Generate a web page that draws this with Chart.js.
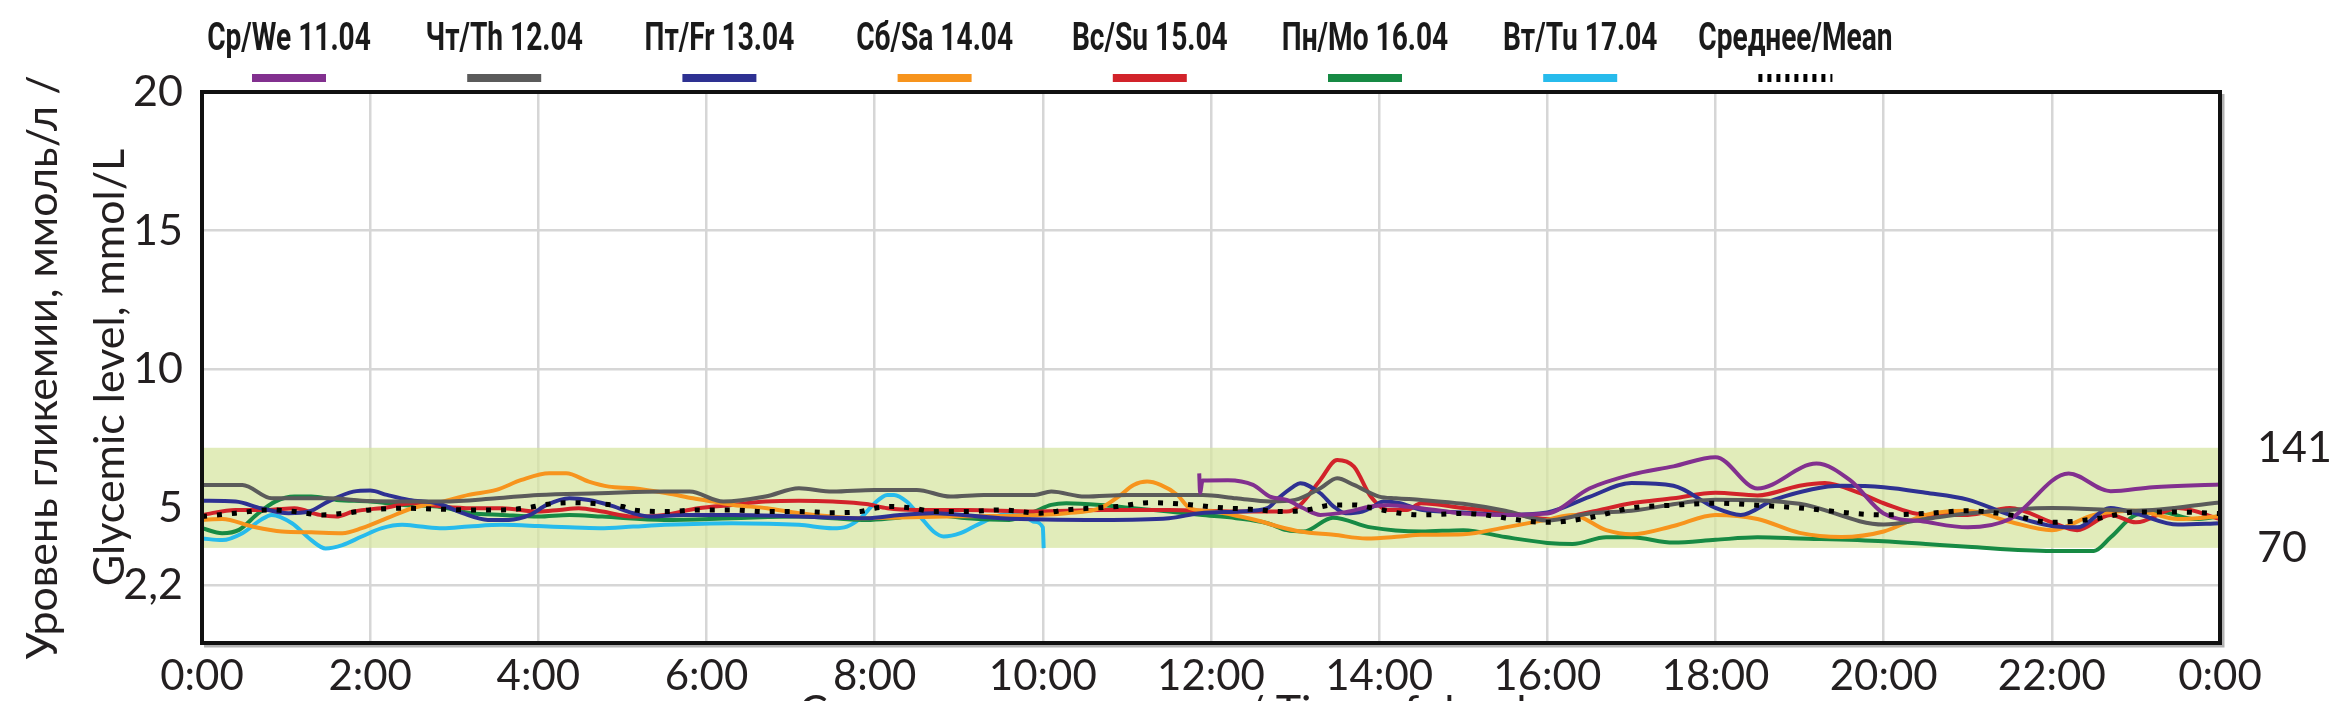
<!DOCTYPE html>
<html>
<head>
<meta charset="utf-8">
<script src="https://cdn.jsdelivr.net/npm/chart.js@4.4.0/dist/chart.umd.min.js"></script>
<style>
  html, body { margin: 0; padding: 0; background: #fff; }
  #wrap { width: 2340px; height: 701px; }
</style>
</head>
<body>
<div id="wrap"><canvas id="glucose-chart" width="2340" height="701"></canvas></div>
<script>
// Series labels (legend order)
const dayLabels = ['Ср/We 11.04', 'Чт/Th 12.04', 'Пт/Fr 13.04', 'Сб/Sa 14.04',
                   'Вс/Su 15.04', 'Пн/Мо 16.04', 'Вт/Tu 17.04', 'Среднее/Mean'];
const dayColors = ['#82308f', '#5b5b5b', '#2e3192', '#f7941d',
                   '#d2232a', '#178a44', '#27bbec', '#000000'];

// Axis ticks
const timeLabels = ['0:00', '2:00', '4:00', '6:00', '8:00', '10:00', '12:00',
                    '14:00', '16:00', '18:00', '20:00', '22:00', '0:00'];
const yTicks = [2.2, 5, 10, 15, 20];
const yTickLabels = ['2,2', '5', '10', '15', '20'];

// Target range, mmol/L (labelled in mg/dL on the right)
const targetRange = [3.56, 7.17];
const targetLabels = ['70', '141'];

// [hour, mmol/L]
const wed = [[11.86, 6.25], [11.87, 5.55], [11.9, 5.99], [12.2, 6.0], [12.5, 5.83], [12.7, 5.41],
  [12.9, 5.29], [13.1, 4.99], [13.3, 4.75], [13.6, 4.85], [13.9, 5.05], [14.1, 5.1], [14.5, 4.99],
  [15, 4.8], [15.5, 4.75], [16, 4.8], [16.5, 5.7], [17, 6.2], [17.5, 6.5], [18, 6.83], [18.5, 5.7],
  [19.2, 6.6], [19.6, 6.0], [20, 4.8], [20.5, 4.5], [21, 4.3], [21.5, 4.6], [22.2, 6.24], [22.7, 5.6],
  [23.2, 5.75], [24, 5.85]];
const thu = [[0, 5.83], [0.48, 5.83], [0.83, 5.35], [1.5, 5.35], [2.0, 5.25], [2.86, 5.23], [3.5, 5.35],
  [4.0, 5.47], [4.73, 5.53], [5.5, 5.59], [5.8, 5.59], [6.2, 5.23], [6.7, 5.41], [7.1, 5.71], [7.5, 5.59],
  [8.0, 5.65], [8.5, 5.65], [8.9, 5.41], [9.3, 5.47], [9.9, 5.47], [10.1, 5.59], [10.5, 5.41], [11.0, 5.47],
  [11.9, 5.47], [12.3, 5.35], [12.7, 5.23], [13.0, 5.29], [13.3, 5.71], [13.5, 6.07], [13.7, 5.83],
  [14.0, 5.41], [14.2, 5.35], [14.5, 5.29], [15, 5.15], [15.5, 4.9], [16, 4.55], [16.5, 4.8], [17, 4.9],
  [18, 5.3], [19, 5.15], [20, 4.4], [20.5, 4.6], [21, 4.8], [22, 5.0], [23, 4.9], [24, 5.2]];
const fri = [[0, 5.26], [0.4, 5.23], [0.7, 4.99], [1.03, 4.81], [1.27, 4.87], [1.5, 5.23], [1.8, 5.59],
  [2.0, 5.63], [2.2, 5.47], [2.46, 5.29], [2.8, 5.17], [3.1, 4.81], [3.4, 4.57], [3.65, 4.57], [3.9, 4.75],
  [4.1, 5.11], [4.37, 5.35], [4.6, 5.29], [4.84, 5.11], [5.13, 4.81], [5.33, 4.69], [5.73, 4.75],
  [6.32, 4.75], [7.1, 4.69], [7.9, 4.63], [8.3, 4.75], [8.7, 4.81], [9.5, 4.63], [10.7, 4.57], [11.5, 4.63],
  [11.87, 4.81], [12.35, 4.87], [12.67, 4.99], [12.8, 5.35], [12.98, 5.77], [13.06, 5.89], [13.3, 5.53],
  [13.46, 5.05], [13.6, 4.81], [13.8, 4.87], [13.93, 5.05], [14.05, 5.23], [14.25, 5.17], [14.5, 4.93],
  [15, 4.84], [15.5, 4.75], [16, 4.84], [16.5, 5.4], [17, 5.9], [17.5, 5.8], [18, 5.0], [18.3, 4.75],
  [18.7, 5.3], [19.5, 5.8], [20, 5.75], [20.5, 5.55], [21, 5.3], [21.5, 4.75], [22, 4.35], [22.3, 4.3],
  [22.7, 5.0], [23, 4.8], [23.5, 4.4], [24, 4.45]];
const sat = [[0, 4.57], [0.24, 4.6], [0.6, 4.33], [0.95, 4.15], [1.3, 4.12], [1.67, 4.09], [1.9, 4.27],
  [2.2, 4.63], [2.5, 4.99], [2.86, 5.23], [3.17, 5.47], [3.5, 5.65], [3.8, 6.01], [4.13, 6.25], [4.33, 6.25],
  [4.6, 5.95], [4.84, 5.77], [5.13, 5.71], [5.53, 5.53], [5.84, 5.35], [6.08, 5.23], [6.32, 5.11],
  [6.72, 4.99], [7.1, 4.81], [7.5, 4.69], [7.83, 4.63], [8.3, 4.66], [9.0, 4.7], [9.97, 4.75], [10.28, 4.81],
  [10.68, 4.99], [10.9, 5.41], [11.08, 5.83], [11.24, 5.95], [11.4, 5.83], [11.6, 5.47], [11.75, 4.99],
  [12.03, 4.87], [12.35, 4.69], [12.6, 4.51], [12.8, 4.33], [13.06, 4.15], [13.46, 4.03], [13.85, 3.9],
  [14.25, 3.97], [14.5, 4.03], [15, 4.05], [15.5, 4.3], [16, 4.58], [16.3, 4.75], [16.7, 4.2], [17, 4.05],
  [17.5, 4.35], [18, 4.75], [18.5, 4.6], [19, 4.1], [19.5, 3.95], [20, 4.15], [20.5, 4.75], [21, 4.9],
  [21.5, 4.5], [22, 4.2], [22.5, 4.75], [23, 4.9], [23.5, 4.6], [24, 4.7]];
const sun = [[0, 4.75], [0.4, 4.93], [0.8, 4.93], [1.1, 4.99], [1.4, 4.75], [1.6, 4.69], [1.8, 4.87],
  [2.2, 5.02], [2.5, 5.17], [2.86, 5.05], [3.2, 4.99], [3.57, 4.99], [4.0, 4.87], [4.25, 4.93], [4.48, 4.99],
  [4.76, 4.87], [5.13, 4.69], [5.5, 4.75], [5.9, 4.99], [6.3, 5.11], [6.7, 5.23], [7.1, 5.26], [7.5, 5.23],
  [7.9, 5.14], [8.15, 4.99], [8.5, 4.93], [9.1, 4.93], [9.9, 4.87], [10.7, 4.93], [11.5, 4.93], [12.3, 4.87],
  [12.9, 4.87], [13.06, 5.11], [13.3, 6.01], [13.5, 6.73], [13.7, 6.49], [13.9, 5.41], [14.1, 4.93],
  [14.33, 4.93], [14.5, 5.17], [15, 5.0], [15.5, 4.85], [16, 4.6], [16.5, 4.85], [17, 5.17], [17.5, 5.35],
  [18, 5.55], [18.5, 5.45], [19, 5.8], [19.3, 5.9], [19.7, 5.55], [20, 5.17], [20.5, 4.75], [21, 4.75],
  [21.5, 5.0], [22, 4.48], [22.3, 4.2], [22.7, 4.75], [23, 4.48], [23.5, 5.0], [24, 4.6]];
const mon = [[0, 4.27], [0.24, 4.09], [0.44, 4.21], [0.67, 4.81], [0.87, 5.23], [1.1, 5.41], [1.3, 5.41],
  [1.6, 5.29], [2.0, 5.23], [2.4, 5.11], [2.8, 5.05], [3.2, 4.81], [3.57, 4.75], [4.0, 4.69], [4.37, 4.75],
  [4.76, 4.69], [5.5, 4.57], [6.3, 4.63], [7.1, 4.69], [7.5, 4.63], [7.9, 4.57], [8.3, 4.66], [8.7, 4.75],
  [9.1, 4.63], [9.6, 4.57], [9.9, 4.87], [10.1, 5.11], [10.28, 5.17], [10.68, 5.11], [11.08, 4.99],
  [11.5, 4.87], [11.87, 4.75], [12.3, 4.63], [12.67, 4.45], [12.9, 4.2], [13.1, 4.15], [13.45, 4.65],
  [13.9, 4.3], [14.5, 4.15], [15, 4.2], [15.5, 3.95], [16, 3.74], [16.3, 3.7], [16.7, 3.94], [17, 3.94],
  [17.5, 3.75], [18, 3.85], [18.5, 3.94], [19, 3.9], [20, 3.8], [20.5, 3.7], [21, 3.6], [22, 3.45],
  [22.5, 3.45], [22.7, 3.94], [23, 4.75], [23.3, 4.85], [23.7, 4.6], [24, 4.7]];
const tue = [[0, 3.90], [0.24, 3.84], [0.48, 4.09], [0.7, 4.57], [0.83, 4.75], [1.07, 4.45], [1.3, 3.84],
  [1.47, 3.54], [1.67, 3.66], [1.9, 3.97], [2.14, 4.27], [2.38, 4.39], [2.6, 4.33], [2.86, 4.27],
  [3.17, 4.33], [3.57, 4.39], [4.0, 4.35], [4.37, 4.30], [4.73, 4.27], [5.13, 4.33], [5.5, 4.39],
  [6.3, 4.45], [7.1, 4.39], [7.5, 4.27], [7.67, 4.33], [7.83, 4.63], [8.0, 5.17], [8.15, 5.47],
  [8.23, 5.47], [8.38, 5.23], [8.54, 4.69], [8.7, 4.15], [8.82, 3.97], [9.02, 4.09], [9.22, 4.39],
  [9.5, 4.75], [9.73, 4.8], [9.9, 4.5], [10.0, 4.3], [10.01, 3.55]];
const mean = [[0, 4.69], [0.4, 4.81], [0.8, 4.93], [1.1, 4.87], [1.43, 4.75], [1.7, 4.81], [2.0, 4.93],
  [2.4, 4.99], [2.8, 4.96], [3.2, 4.93], [3.57, 4.93], [3.9, 5.02], [4.05, 5.11], [4.37, 5.19], [4.6, 5.17],
  [5.0, 5.05], [5.13, 4.93], [5.53, 4.87], [5.9, 4.93], [6.3, 4.93], [6.7, 4.87], [7.1, 4.87], [7.5, 4.83],
  [7.83, 4.87], [8.0, 4.99], [8.2, 5.05], [8.46, 4.99], [8.7, 4.87], [9.1, 4.87], [9.5, 4.93], [9.97, 4.81],
  [10.28, 4.93], [10.88, 5.05], [11.27, 5.19], [11.67, 5.14], [12.07, 5.02], [12.47, 4.95], [12.86, 4.87],
  [13.14, 4.93], [13.46, 5.11], [13.7, 5.11], [13.93, 4.99], [14.25, 4.81], [14.5, 4.75], [15, 4.8],
  [16, 4.48], [16.5, 4.65], [17, 5.0], [17.5, 5.1], [18, 5.17], [18.5, 5.1], [19, 5.0], [20, 4.75],
  [20.5, 4.8], [21, 4.9], [21.5, 4.75], [22, 4.48], [22.5, 4.6], [23, 4.85], [23.5, 4.85], [24, 4.8]];

const seriesData = [wed, thu, fri, sat, sun, mon, tue, mean];

const TEXT = '#231f20';
const FONT = 'Lato';

// green target band under the lines
const bandPlugin = {
  id: 'band',
  beforeDatasetsDraw(chart) {
    const { ctx, chartArea: a, scales: { y } } = chart;
    const top = y.getPixelForValue(targetRange[1]);
    const bottom = y.getPixelForValue(targetRange[0]);
    ctx.save();
    ctx.fillStyle = 'rgba(214, 228, 160, 0.72)';
    ctx.fillRect(a.left, top, a.right - a.left, bottom - top);
    ctx.restore();
  }
};

// frame, right-hand labels and the legend above the plot
const framePlugin = {
  id: 'frame',
  afterDraw(chart) {
    const { ctx, chartArea: a, scales: { y } } = chart;
    ctx.save();
    ctx.strokeStyle = 'rgba(0,0,0,0.3)';
    ctx.lineWidth = 3;
    ctx.beginPath();
    ctx.moveTo(a.left + 2, a.bottom + 3);
    ctx.lineTo(a.right + 3, a.bottom + 3);
    ctx.lineTo(a.right + 3, a.top + 2);
    ctx.stroke();
    ctx.strokeStyle = '#111';
    ctx.lineWidth = 4;
    ctx.strokeRect(a.left, a.top, a.right - a.left, a.bottom - a.top);

    ctx.fillStyle = TEXT;
    ctx.font = '43px ' + FONT;
    ctx.textAlign = 'left';
    ctx.textBaseline = 'middle';
    targetRange.forEach((v, i) => {
      ctx.fillText(targetLabels[i], a.right + 37, y.getPixelForValue(v));
    });

    chart.data.datasets.forEach((ds, i) => {
      const cx = 289 + i * 215.2;
      ctx.save();
      ctx.translate(cx, 50);
      ctx.scale(0.74, 1);
      ctx.font = 'bold 38px Roboto';
      ctx.textAlign = 'center';
      ctx.textBaseline = 'alphabetic';
      ctx.fillStyle = '#1a1a1a';
      ctx.fillText(ds.label, 0, 0);
      ctx.restore();
      ctx.beginPath();
      ctx.lineWidth = 8;
      ctx.strokeStyle = ds.borderColor;
      ctx.setLineDash(ds.borderDash ? [4, 5] : []);
      ctx.moveTo(cx - 37, 78);
      ctx.lineTo(cx + 37, 78);
      ctx.stroke();
    });
    ctx.restore();
  }
};

const datasets = seriesData.map((points, i) => ({
  label: dayLabels[i],
  data: points.map(p => ({ x: p[0], y: p[1] })),
  borderColor: dayColors[i],
  borderWidth: i === 7 ? 5 : 4,
  borderDash: i === 7 ? [5, 10] : undefined,
  pointRadius: 0,
  fill: false,
  cubicInterpolationMode: 'monotone',
  order: i === 7 ? 0 : 1
}));

new Chart(document.getElementById('glucose-chart').getContext('2d'), {
  type: 'line',
  data: { datasets },
  options: {
    responsive: false,
    animation: false,
    layout: { padding: { left: 0, right: 120, top: 92, bottom: 0 } },
    plugins: { legend: { display: false }, tooltip: { enabled: false } },
    scales: {
      x: {
        type: 'linear',
        min: 0,
        max: 24,
        afterFit(scale) { scale.height = 58; },
        grid: {
          drawTicks: false,
          lineWidth: 2.5,
          color: c => (c.tick && (c.tick.value === 0 || c.tick.value === 24)) ? 'rgba(0,0,0,0)' : '#d6d6d6'
        },
        border: { display: false },
        ticks: {
          stepSize: 2,
          padding: 8,
          color: TEXT,
          font: { family: FONT, size: 42 },
          maxRotation: 0,
          autoSkip: false,
          callback: (v) => timeLabels[Math.round(v / 2)]
        },
        title: {
          display: true,
          text: 'Суточное время, часы / Time of day, hours',
          color: TEXT,
          font: { family: FONT, size: 43 },
          padding: { top: 0, bottom: -37 }
        }
      },
      y: {
        min: 0.13,
        max: 20,
        afterFit(scale) { scale.width = 202; },
        afterBuildTicks(scale) { scale.ticks = yTicks.map(v => ({ value: v })); },
        grid: {
          drawTicks: false,
          lineWidth: 2.5,
          color: c => (c.tick && (c.tick.value === 5 || c.tick.value === 20)) ? 'rgba(0,0,0,0)' : '#d6d6d6'
        },
        border: { display: false },
        ticks: {
          padding: 19,
          color: TEXT,
          font: { family: FONT, size: 43 },
          callback: (v) => yTickLabels[yTicks.indexOf(v)]
        },
        title: {
          display: true,
          text: ['Уровень гликемии, ммоль/л /', 'Glycemic level, mmol/L'],
          color: TEXT,
          font: { family: FONT, size: 43, lineHeight: 1.56 },
          padding: { top: 10, bottom: 0 }
        }
      }
    }
  },
  plugins: [bandPlugin, framePlugin]
});
</script>
</body>
</html>
